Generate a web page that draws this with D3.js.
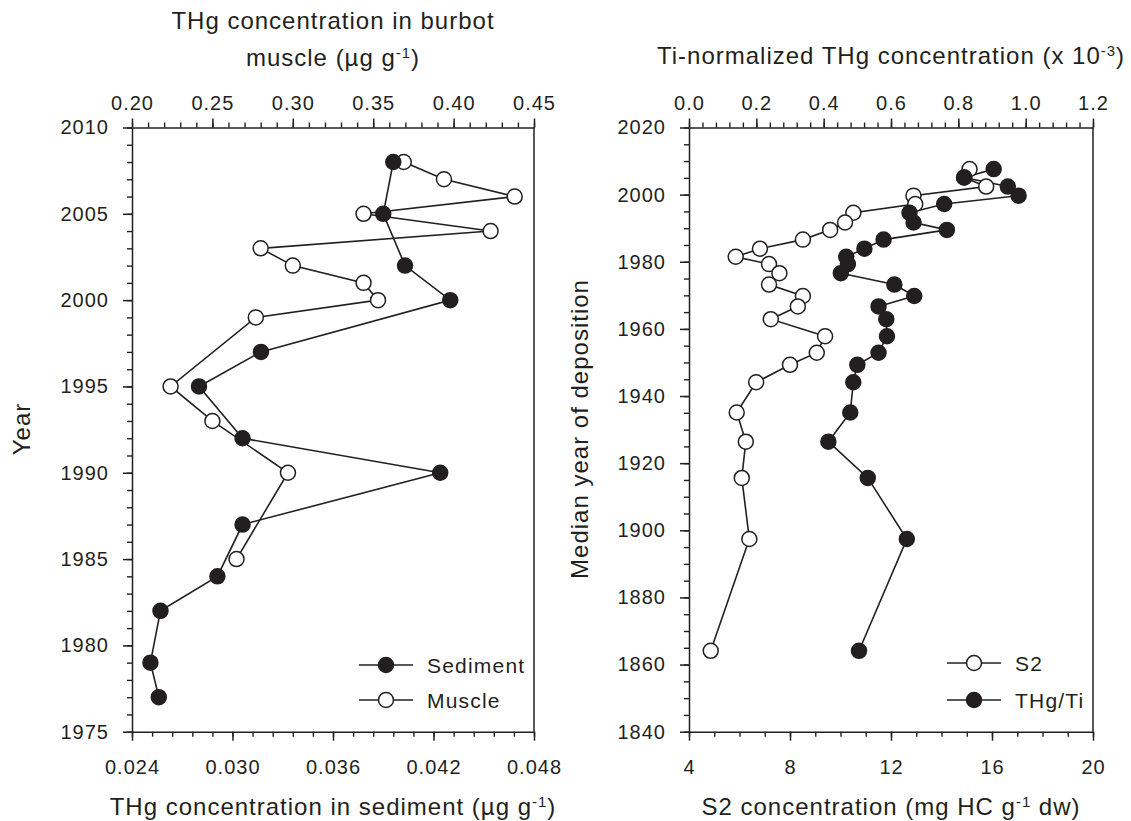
<!DOCTYPE html>
<html>
<head>
<meta charset="utf-8">
<script src="https://cdnjs.cloudflare.com/ajax/libs/d3/7.8.5/d3.min.js"></script>
<style>
  body { margin: 0; background: #fff; }
  svg text { font-family: "Liberation Sans", Arial, Helvetica, sans-serif; }
</style>
</head>
<body>
<svg id="chart" width="1131" height="821"></svg>
<script>
// ---- left panel data (burbot muscle vs sediment core) ----
var sedimentYears = [2008, 2005, 2002, 2000, 1997, 1995, 1992, 1990, 1987, 1984, 1982, 1979, 1977];
var sedimentTHg = [0.0396, 0.0390, 0.0403, 0.0430, 0.0317, 0.0280, 0.0306, 0.0424, 0.0306, 0.0291, 0.0257, 0.0251, 0.0256];
var muscleYears = [2008, 2007, 2006, 2005, 2004, 2003, 2002, 2001, 2000, 1999, 1995, 1993, 1990, 1985];
var muscleTHg = [0.369, 0.394, 0.438, 0.344, 0.423, 0.280, 0.300, 0.344, 0.353, 0.277, 0.224, 0.250, 0.297, 0.265];

// ---- right panel data (median year of deposition) ----
var depositionYears = [2007.6, 2005.1, 2002.4, 1999.7, 1997.2, 1994.6, 1991.7, 1989.5, 1986.6, 1983.9, 1981.5, 1979.3, 1976.6,
  1973.2, 1969.8, 1966.7, 1962.9, 1957.8, 1952.9, 1949.3, 1944.1, 1935.1, 1926.4, 1915.6, 1897.4, 1864.1];
var s2 = [15.11, 14.9, 15.77, 12.89, 12.96, 10.51, 10.18, 9.59, 8.51, 6.81, 5.85, 7.17, 7.58,
  7.17, 8.51, 8.31, 7.24, 9.39, 9.06, 8.00, 6.66, 5.89, 6.25, 6.09, 6.39, 4.86];
var thgTi = [0.905, 0.817, 0.947, 0.979, 0.758, 0.655, 0.667, 0.766, 0.578, 0.521, 0.467, 0.472, 0.451,
  0.610, 0.669, 0.563, 0.586, 0.588, 0.563, 0.500, 0.488, 0.479, 0.414, 0.531, 0.647, 0.505];

// ---- tick values ----
var sedTicks = [0.024, 0.030, 0.036, 0.042, 0.048];
var muscleTicks = [0.20, 0.25, 0.30, 0.35, 0.40, 0.45];
var yearTicksL = [1975, 1980, 1985, 1990, 1995, 2000, 2005, 2010];
var s2Ticks = [4, 8, 12, 16, 20];
var tiTicks = [0.0, 0.2, 0.4, 0.6, 0.8, 1.0, 1.2];
var yearTicksR = [1840, 1860, 1880, 1900, 1920, 1940, 1960, 1980, 2000, 2020];

var ink = '#231f20';
var svg = d3.select('#chart');
var plotTop = 127.5, plotBottom = 731.7;
var R = 7.5;

function steps(a, b, step) {
  var n = Math.round((b - a) / step);
  return d3.range(n + 1).map(function(i) { return a + i * step; });
}

function styleAxis(g) {
  g.attr('font-family', '"Liberation Sans", Arial, sans-serif').attr('font-size', 20);
  g.selectAll('text').attr('fill', ink).style('letter-spacing', '1px');
  g.selectAll('line,path').attr('stroke', ink).attr('stroke-width', 1.5);
}

function minorAxis(g, axis) {
  g.call(axis);
  g.select('.domain').remove();
  g.selectAll('text').remove();
  g.selectAll('line').attr('stroke', ink).attr('stroke-width', 1.4);
}

// text with an optional superscript part: parts = [[text, isSup], ...]
function richText(sel, parts) {
  var sup = false;
  parts.forEach(function(p) {
    var t = sel.append('tspan').text(p[0]);
    if (p[1] && !sup) { t.attr('dy', '-0.55em').attr('font-size', '0.62em'); sup = true; }
    else if (!p[1] && sup) { t.attr('dy', '0.34em'); sup = false; }
  });
  return sel;
}

function title(x, y, parts, rotate) {
  var t = svg.append('text')
    .attr('text-anchor', 'middle')
    .attr('font-size', 24)
    .attr('fill', ink)
    .style('letter-spacing', '1px');
  if (rotate) t.attr('transform', 'translate(' + x + ',' + y + ') rotate(-90)');
  else t.attr('x', x).attr('y', y);
  return richText(t, parts);
}

function drawSeries(g, xs, ys, x, y) {
  var line = d3.line().x(function(d) { return x(d[0]); }).y(function(d) { return y(d[1]); });
  g.append('path')
    .datum(d3.zip(xs, ys))
    .attr('d', line)
    .attr('fill', 'none')
    .attr('stroke', ink)
    .attr('stroke-width', 1.6);
}

function drawMarkers(g, xs, ys, x, y, filled) {
  g.selectAll(null).data(d3.zip(xs, ys)).enter().append('circle')
    .attr('cx', function(d) { return x(d[0]); })
    .attr('cy', function(d) { return y(d[1]); })
    .attr('r', R)
    .attr('fill', filled ? ink : '#fff')
    .attr('stroke', ink)
    .attr('stroke-width', 1.5);
}

function legendRow(g, x0, yc, label, filled) {
  g.append('line').attr('x1', x0).attr('x2', x0 + 54).attr('y1', yc).attr('y2', yc)
    .attr('stroke', ink).attr('stroke-width', 1.6);
  g.append('circle').attr('cx', x0 + 27).attr('cy', yc).attr('r', R)
    .attr('fill', filled ? ink : '#fff').attr('stroke', ink).attr('stroke-width', 1.5);
  g.append('text').attr('x', x0 + 68).attr('y', yc + 7.5)
    .attr('font-size', 21).attr('fill', ink).style('letter-spacing', '1.2px')
    .text(label);
}

// ================= LEFT PANEL =================
var xSed = d3.scaleLinear().domain([0.024, 0.048]).range([132, 534]);
var xMus = d3.scaleLinear().domain([0.20, 0.45]).range([132, 534]);
var yL = d3.scaleLinear().domain([1975, 2010]).range([plotBottom, plotTop]);

var left = svg.append('g');

minorAxis(left.append('g').attr('transform', 'translate(0,' + plotBottom + ')'),
  d3.axisBottom(xSed).tickValues(steps(0.024, 0.048, 0.0012)).tickSize(5));
minorAxis(left.append('g').attr('transform', 'translate(0,' + plotTop + ')'),
  d3.axisTop(xMus).tickValues(steps(0.20, 0.45, 0.01)).tickSize(5));
minorAxis(left.append('g').attr('transform', 'translate(132,0)'),
  d3.axisLeft(yL).tickValues(d3.range(1975, 2011)).tickSize(5));

left.append('g').attr('transform', 'translate(0,' + plotBottom + ')')
  .call(d3.axisBottom(xSed).tickValues(sedTicks).tickFormat(d3.format('.3f')).tickSize(9).tickSizeOuter(0).tickPadding(19))
  .call(styleAxis);
left.append('g').attr('transform', 'translate(0,' + plotTop + ')')
  .call(d3.axisTop(xMus).tickValues(muscleTicks).tickFormat(d3.format('.2f')).tickSize(9).tickSizeOuter(0).tickPadding(8.5))
  .call(styleAxis);
left.append('g').attr('transform', 'translate(132,0)')
  .call(d3.axisLeft(yL).tickValues(yearTicksL).tickFormat(d3.format('d')).tickSize(9).tickSizeOuter(0).tickPadding(14))
  .call(styleAxis);
left.append('line').attr('x1', 534).attr('x2', 534).attr('y1', plotTop).attr('y2', plotBottom)
  .attr('stroke', ink).attr('stroke-width', 1.5);

drawSeries(left, sedimentTHg, sedimentYears, xSed, yL);
drawSeries(left, muscleTHg, muscleYears, xMus, yL);
drawMarkers(left, muscleTHg, muscleYears, xMus, yL, false);
drawMarkers(left, sedimentTHg, sedimentYears, xSed, yL, true);

legendRow(left, 359, 665, 'Sediment', true);
legendRow(left, 359, 700, 'Muscle', false);

title(333, 29, [['THg concentration in burbot']]);
title(333, 66, [['muscle (\u00b5g g'], ['-1', true], [')']]);
title(333, 815, [['THg concentration in sediment (\u00b5g g'], ['-1', true], [')']]);
title(30, 429, [['Year']], true);

// ================= RIGHT PANEL =================
var xS2 = d3.scaleLinear().domain([4, 20]).range([689, 1093]);
var xTi = d3.scaleLinear().domain([0, 1.2]).range([689, 1093]);
var yR = d3.scaleLinear().domain([1840, 2020]).range([plotBottom, plotTop]);

var right = svg.append('g');

minorAxis(right.append('g').attr('transform', 'translate(0,' + plotBottom + ')'),
  d3.axisBottom(xS2).tickValues(d3.range(4, 21)).tickSize(5));
minorAxis(right.append('g').attr('transform', 'translate(0,' + plotTop + ')'),
  d3.axisTop(xTi).tickValues(steps(0, 1.2, 0.04)).tickSize(5));
minorAxis(right.append('g').attr('transform', 'translate(689,0)'),
  d3.axisLeft(yR).tickValues(d3.range(1840, 2021, 5)).tickSize(5));

right.append('g').attr('transform', 'translate(0,' + plotBottom + ')')
  .call(d3.axisBottom(xS2).tickValues(s2Ticks).tickFormat(d3.format('d')).tickSize(9).tickSizeOuter(0).tickPadding(19))
  .call(styleAxis);
right.append('g').attr('transform', 'translate(0,' + plotTop + ')')
  .call(d3.axisTop(xTi).tickValues(tiTicks).tickFormat(d3.format('.1f')).tickSize(9).tickSizeOuter(0).tickPadding(8.5))
  .call(styleAxis);
right.append('g').attr('transform', 'translate(689,0)')
  .call(d3.axisLeft(yR).tickValues(yearTicksR).tickFormat(d3.format('d')).tickSize(9).tickSizeOuter(0).tickPadding(14))
  .call(styleAxis);
right.append('line').attr('x1', 1093).attr('x2', 1093).attr('y1', plotTop).attr('y2', plotBottom)
  .attr('stroke', ink).attr('stroke-width', 1.5);

drawSeries(right, s2, depositionYears, xS2, yR);
drawSeries(right, thgTi, depositionYears, xTi, yR);
drawMarkers(right, s2, depositionYears, xS2, yR, false);
drawMarkers(right, thgTi, depositionYears, xTi, yR, true);

legendRow(right, 947, 663, 'S2', false);
legendRow(right, 947, 700, 'THg/Ti', true);

title(891, 64, [['Ti-normalized THg concentration (x 10'], ['-3', true], [')']]);
title(891, 815, [['S2 concentration (mg HC g'], ['-1', true], [' dw)']]);
title(588, 429, [['Median year of deposition']], true);
</script>
</body>
</html>
